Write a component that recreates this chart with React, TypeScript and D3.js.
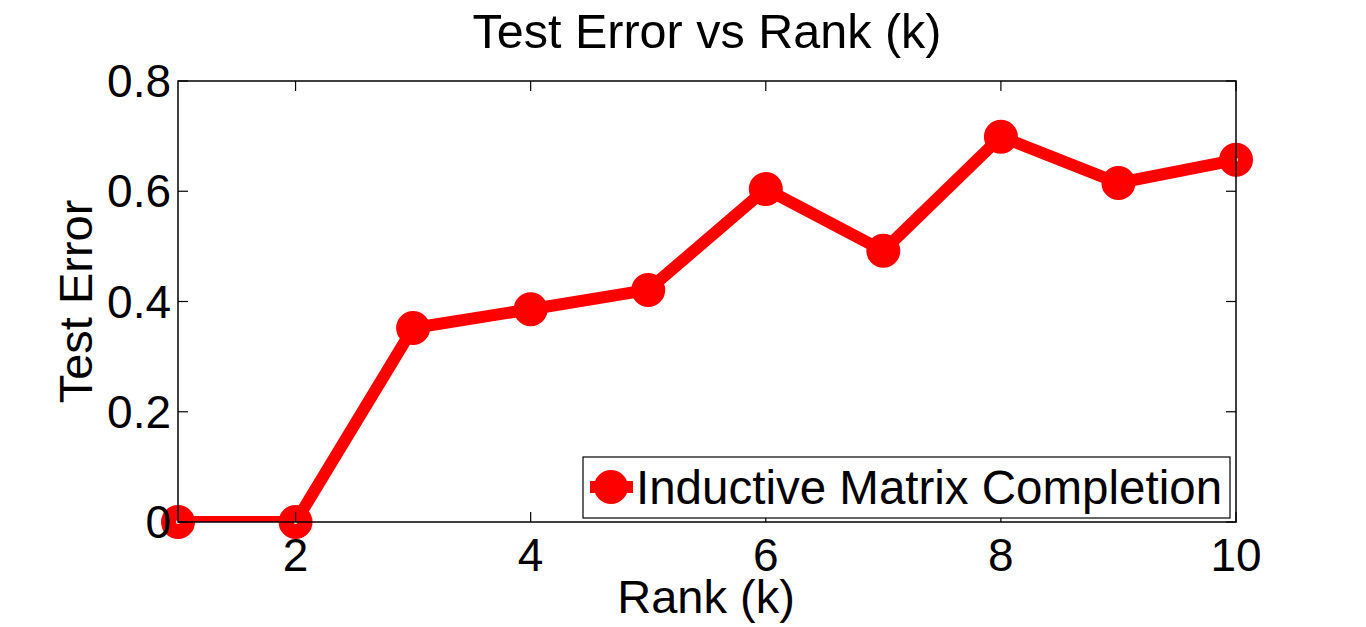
import React from "react";
import * as d3 from "d3";

const ranks = [1, 2, 3, 4, 5, 6, 7, 8, 9, 10];
const testError = [0, 0, 0.352, 0.386, 0.421, 0.604, 0.492, 0.699, 0.615, 0.657];
const xTicks = [2, 4, 6, 8, 10];
const yTicks = [0, 0.2, 0.4, 0.6, 0.8];
const seriesName = "Inductive Matrix Completion";

const W = 1366, H = 627;
const L = 178, R = 1236, T = 81, B = 522;
const FONT = "'Liberation Sans', Arial, Helvetica, sans-serif";

export default function App() {
  const x = d3.scaleLinear().domain([1, 10]).range([L, R]);
  const y = d3.scaleLinear().domain([0, 0.8]).range([B, T]);
  const line = d3.line<number>().x((_, i) => x(ranks[i])).y((d) => y(d));
  const fmt = (v: number) => (v === 0 ? "0" : String(v));
  return (
    <svg width={W} height={H} style={{ position: "absolute", left: 0, top: 0, background: "#fff" }}>
      <defs>
        <clipPath id="plotclip">
          <rect x={L} y={T} width={R - L} height={B - T} />
        </clipPath>
      </defs>
      <rect x={0} y={0} width={W} height={H} fill="#fff" />
      <text x={(L + R) / 2} y={48} fontFamily={FONT} fontSize={48.5} textAnchor="middle">Test Error vs Rank (k)</text>
      {/* data */}
      <path d={line(testError) || ""} fill="none" stroke="#ff0000" strokeWidth={12} strokeLinejoin="miter" clipPath="url(#plotclip)" />
      {testError.map((v, i) => (
        <circle key={i} cx={x(ranks[i])} cy={y(v)} r={9.5} fill="none" stroke="#ff0000" strokeWidth={15} />
      ))}
      {/* axes box */}
      <rect x={L} y={T} width={R - L} height={B - T} fill="none" stroke="#000" strokeWidth={1.5} />
      {xTicks.map((t) => (
        <g key={"x" + t}>
          <line x1={x(t)} x2={x(t)} y1={B} y2={B - 10} stroke="#000" strokeWidth={1.2} />
          <line x1={x(t)} x2={x(t)} y1={T} y2={T + 10} stroke="#000" strokeWidth={1.2} />
          <text x={x(t)} y={571} fontFamily={FONT} fontSize={46} textAnchor="middle">{t}</text>
        </g>
      ))}
      {yTicks.map((t) => (
        <g key={"y" + t}>
          <line x1={L} x2={L + 10} y1={y(t)} y2={y(t)} stroke="#000" strokeWidth={1.2} />
          <line x1={R} x2={R - 10} y1={y(t)} y2={y(t)} stroke="#000" strokeWidth={1.2} />
          <text x={171} y={y(t) + 16} fontFamily={FONT} fontSize={46} textAnchor="end">{fmt(t)}</text>
        </g>
      ))}
      <text x={706} y={613} fontFamily={FONT} fontSize={47} textAnchor="middle">Rank (k)</text>
      <text transform={`translate(92,${(T + B) / 2}) rotate(-90)`} fontFamily={FONT} fontSize={47} textAnchor="middle">Test Error</text>
      {/* legend */}
      <rect x={583} y={457} width={647} height={61} fill="#fff" stroke="#000" strokeWidth={1.2} />
      <line x1={590} x2={633} y1={487} y2={487} stroke="#ff0000" strokeWidth={12} />
      <circle cx={611} cy={487} r={9.5} fill="#ff0000" stroke="#ff0000" strokeWidth={15} />
      <text x={636} y={504} fontFamily={FONT} fontSize={47.5}>{seriesName}</text>
    </svg>
  );
}
